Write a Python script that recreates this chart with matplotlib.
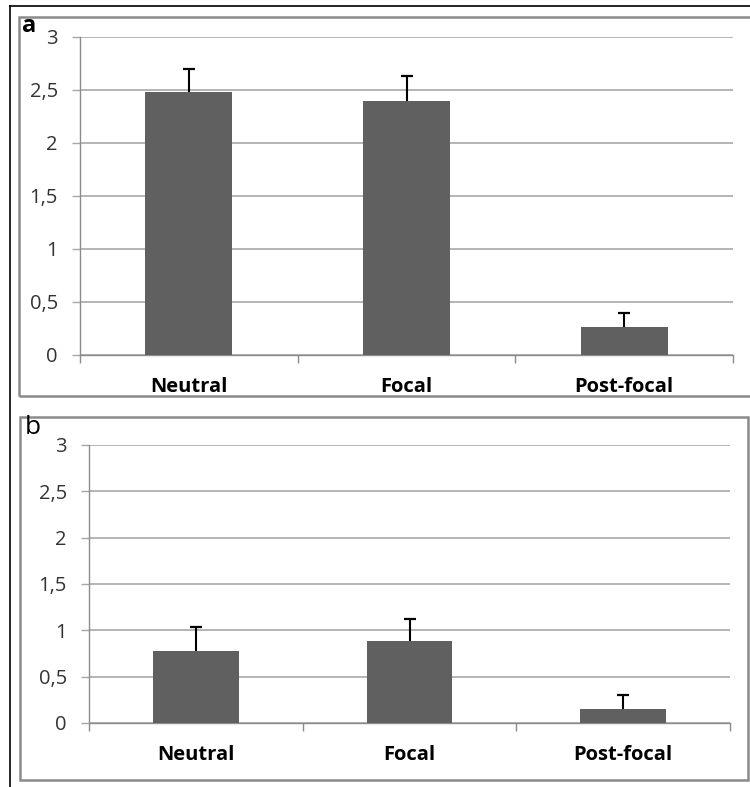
import matplotlib.pyplot as plt
from matplotlib.patches import Rectangle
from matplotlib.lines import Line2D

# === Données ===
categories = ["Neutral", "Focal", "Post-focal"]
values_a = [2.48, 2.40, 0.26]
errors_a = [0.22, 0.23, 0.14]
values_b = [0.78, 0.88, 0.15]
errors_b = [0.26, 0.24, 0.15]
yticks = [0, 0.5, 1, 1.5, 2, 2.5, 3]
ytick_labels = ["0", "0,5", "1", "1,5", "2", "2,5", "3"]

plt.rcParams['font.family'] = ['Open Sans', 'DejaVu Sans']

bar_color = "#606060"
grid_color = "#a8a8a8"
axis_color = "#8c8c8c"

fig = plt.figure(figsize=(7.5, 7.87), dpi=100)
W, H = 750, 787


def fx(px):
    return px / W


def fy(py):
    return 1 - py / H


# === Cadres des panneaux ===
fig.add_artist(Line2D([fx(10), fx(10)], [fy(6), fy(787)], color="black", lw=1.2))
fig.add_artist(Line2D([fx(10), fx(750)], [fy(6), fy(6)], color="black", lw=1.2))
fig.add_artist(Rectangle((fx(19), fy(396)), fx(740), fy(17) - fy(396),
                         fill=False, edgecolor="#8a8a8a", lw=1.8))
fig.add_artist(Rectangle((fx(20), fy(780)), fx(728), fy(417) - fy(780),
                         fill=False, edgecolor="#8a8a8a", lw=1.8))


def draw_panel(rect, values, errors, letter, letter_pos, letter_kw):
    ax = fig.add_axes(rect)
    x = list(range(len(categories)))
    tops = [v + e for v, e in zip(values, errors)]
    ax.bar(x, values, width=0.4, color=bar_color, zorder=3)
    # barres d'erreur vers le haut seulement
    ax.vlines(x, values, tops, color="black", lw=1.5, zorder=4)
    ax.plot(x, tops, ls="none", marker="_", ms=9, mew=1.6, color="black", zorder=4)
    ax.set_xlim(-0.5, 2.5)
    ax.set_ylim(0, 3)
    ax.set_yticks(yticks)
    ax.set_yticklabels(ytick_labels, fontsize=14.5, color="#333333")
    ax.yaxis.grid(True, color=grid_color, lw=1.2, zorder=0)
    ax.tick_params(axis="y", length=6, width=1, color=grid_color, pad=10)
    # ticks aux frontières des catégories, étiquettes au centre
    ax.set_xticks([-0.5, 0.5, 1.5, 2.5])
    ax.set_xticklabels([])
    ax.set_xticks(x, minor=True)
    ax.set_xticklabels(categories, minor=True, fontsize=14.5, fontweight="bold", color="black")
    ax.tick_params(axis="x", which="major", length=6, width=1, color=axis_color)
    ax.tick_params(axis="x", which="minor", length=0, pad=16)
    for s in ["top", "right"]:
        ax.spines[s].set_visible(False)
    for s in ["left", "bottom"]:
        ax.spines[s].set_color(axis_color)
        ax.spines[s].set_linewidth(1)
    ax.set_facecolor("none")
    fig.text(fx(letter_pos[0]), fy(letter_pos[1]), letter, va="top", ha="left", **letter_kw)
    return ax


draw_panel([fx(80), fy(355), fx(733) - fx(80), fy(37) - fy(355)],
           values_a, errors_a, "a", (22, 14), dict(fontsize=17, fontweight="bold"))
draw_panel([fx(89), fy(723), fx(730) - fx(89), fy(445) - fy(723)],
           values_b, errors_b, "b", (25, 415), dict(fontsize=19))

fig.savefig("out.png", dpi=100)
